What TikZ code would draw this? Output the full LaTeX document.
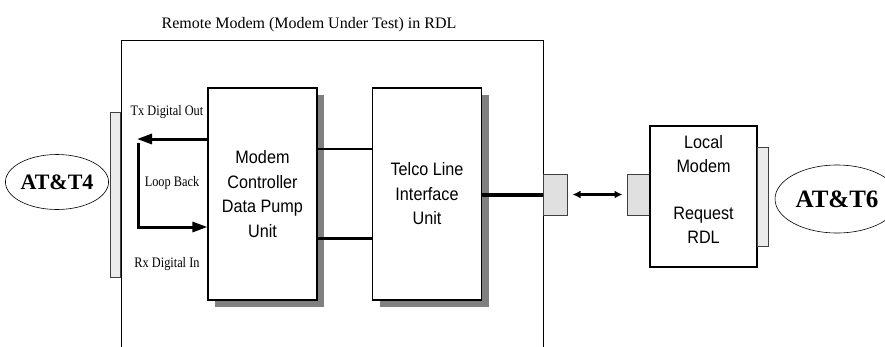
\documentclass[tikz,border=0pt]{standalone}
\usepackage{fontspec}
\setmainfont{Liberation Serif}
\newfontfamily\boxfont[FakeStretch=0.9]{Liberation Sans}
\newfontfamily\lblfont[FakeStretch=0.85]{Liberation Serif}
\usetikzlibrary{arrows.meta,shadows,shapes.geometric}

\begin{document}
\begin{tikzpicture}[x=1pt,y=-1pt,
  unit/.style={draw,line width=1.2pt,fill=white,minimum width=109pt,minimum height=212pt,align=center,font=\boxfont\fontsize{18}{24.5}\selectfont,
    drop shadow={shadow xshift=7pt,shadow yshift=-7pt,fill=black!50,opacity=1}},
  boxtxt/.style={align=center,font=\boxfont\fontsize{18}{24.5}\selectfont},
  strip/.style={draw=black!75,line width=0.8pt,fill=black!8},
  port/.style={draw=black!75,line width=1pt,fill=black!12,minimum height=41pt},
  att/.style={ellipse,draw,line width=0.6pt,inner sep=0pt,font=\bfseries},
  lbl/.style={font=\lblfont\fontsize{14.5}{16}\selectfont,anchor=base,inner sep=0pt},
  sig/.style={line width=3pt,-{Triangle[length=15pt,width=10pt]}}
]
\useasboundingbox (0,0) rectangle (885,346);

% remote modem under test
\node[draw,line width=1.1pt,minimum width=422pt,minimum height=320pt,anchor=north west] (remote) at (121,40) {};
\node[font=\fontsize{16}{18}\selectfont,anchor=base,inner sep=0pt] (title) at (309,28) {Remote Modem (Modem Under Test) in RDL};

\node[strip,minimum width=10pt,minimum height=165pt] (lstrip) at (115,194.5) {};
\node[att,minimum width=95pt,minimum height=55pt,font=\bfseries\fontsize{22}{24}\selectfont] (att4) at (57,182) {AT\&T4};

\node[unit] (modem) at (262.5,194) {Modem\\Controller\\Data Pump\\Unit};
\node[unit] (telco) at (427,194) {Telco Line\\Interface\\Unit};

\node[port,minimum width=24pt] (rport) at (555,194.5) {};

% loop back
\coordinate (txend) at (137,139);
\coordinate (lbtop) at (138,143);
\coordinate (lbbot) at (138,227);
\draw[sig] (modem.west |- txend) -- (txend);
\draw[sig] (lbtop) -- (lbbot) -- (modem.west |- lbbot);
\node[lbl] (txlbl) at (167,115) {Tx Digital Out};
\node[lbl] (lblp) at (172,186) {Loop Back};
\node[lbl] (rxlbl) at (167,267) {Rx Digital In};

% links
\draw[line width=2pt] (modem.east |- 0,149) -- (telco.west |- 0,149);
\draw[line width=3pt] (modem.east |- 0,238) -- (telco.west |- 0,238);
\draw[line width=4pt] (telco.east |- rport) -- (rport.west);

% local modem
\node[port,minimum width=23pt] (lport) at (638.5,194.5) {};
\node[draw,line width=1.2pt,fill=white,minimum width=107pt,minimum height=141pt] (local) at (703.5,196.5) {};
\node[boxtxt] (localtxt) at ([yshift=7pt]local.center) {Local\\Modem\\[22pt]Request\\RDL};
\node[strip,minimum width=11pt,minimum height=99pt] (rstrip) at (762.5,196.5) {};
\node[att,minimum width=124pt,minimum height=68pt,font=\bfseries\fontsize{25}{27}\selectfont] (att6) at (837,199) {AT\&T6};

\draw[line width=2.5pt,{Latex[length=8pt,width=8pt]}-{Latex[length=8pt,width=8pt]},shorten <=5pt,shorten >=4pt] (rport) -- (lport);
\end{tikzpicture}
\end{document}
